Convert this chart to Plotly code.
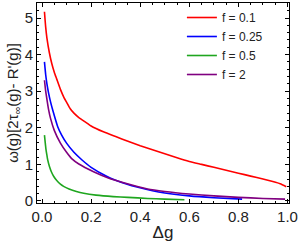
import plotly.graph_objects as go

# Data
red_x = [0.01, 0.015, 0.02, 0.03, 0.04, 0.05, 0.06, 0.075, 0.09, 0.1, 0.115, 0.13, 0.15, 0.183, 0.2,
         0.25, 0.3, 0.35, 0.4, 0.45, 0.5, 0.55, 0.6, 0.65, 0.7, 0.75, 0.8, 0.85, 0.9, 0.94, 0.97, 0.995]
red_y = [5.17, 4.75, 4.45, 4.05, 3.75, 3.52, 3.33, 3.05, 2.82, 2.7, 2.52, 2.4, 2.28, 2.13, 2.05,
         1.89, 1.76, 1.63, 1.51, 1.4, 1.29, 1.18, 1.08, 1.0, 0.92, 0.84, 0.76, 0.68, 0.6, 0.53, 0.47, 0.39]

blue_x = [0.01, 0.015, 0.02, 0.027, 0.035, 0.045, 0.064, 0.08, 0.1, 0.13, 0.163, 0.2, 0.265, 0.3,
          0.35, 0.387, 0.45, 0.5, 0.6, 0.7, 0.815]
blue_y = [3.8, 3.45, 3.2, 2.94, 2.7, 2.45, 2.03, 1.8, 1.58, 1.33, 1.12, 0.92, 0.67, 0.57,
          0.45, 0.38, 0.28, 0.22, 0.14, 0.09, 0.05]

green_x = [0.01, 0.013, 0.016, 0.02, 0.023, 0.03, 0.038, 0.048, 0.06, 0.075, 0.088, 0.11, 0.14,
           0.17, 0.22, 0.29, 0.35, 0.43, 0.5, 0.58]
green_y = [1.8, 1.6, 1.42, 1.25, 1.13, 0.95, 0.8, 0.67, 0.56, 0.46, 0.4, 0.33, 0.26,
           0.21, 0.16, 0.12, 0.1, 0.07, 0.05, 0.035]

purple_x = [0.01, 0.015, 0.02, 0.027, 0.035, 0.05, 0.075, 0.1, 0.122, 0.15, 0.21, 0.27, 0.333,
            0.43, 0.5, 0.6, 0.7, 0.8, 0.9, 0.99]
purple_y = [3.3, 3.0, 2.78, 2.49, 2.25, 1.93, 1.58, 1.33, 1.15, 1.01, 0.8, 0.63, 0.5,
            0.33, 0.26, 0.19, 0.14, 0.1, 0.07, 0.05]

series = [
    ("f = 0.1", red_x, red_y, "#ff0000"),
    ("f = 0.25", blue_x, blue_y, "#0000ff"),
    ("f = 0.5", green_x, green_y, "#1fa61f"),
    ("f = 2", purple_x, purple_y, "#800080"),
]

fig = go.Figure()
for name, xs, ys, col in series:
    fig.add_trace(go.Scatter(x=xs, y=ys, mode="lines", name=name,
                             line=dict(color=col, width=1.6, shape="spline", smoothing=0.5)))

font = "Liberation Sans, Arial, sans-serif"
axis_common = dict(showgrid=False, zeroline=False, showline=True, linecolor="black",
                   linewidth=1, mirror="allticks", ticks="inside", ticklen=4,
                   tickcolor="black", automargin=False,
                   tickfont=dict(family=font, size=15, color="#222"))

fig.update_layout(
    width=300, height=249,
    margin=dict(l=37, r=11, t=3, b=46),
    paper_bgcolor="white", plot_bgcolor="white",
    showlegend=True,
    legend=dict(x=0.575, y=1.0, xanchor="left", yanchor="top",
                bgcolor="rgba(0,0,0,0)", font=dict(family=font, size=12, color="#222"),
                itemwidth=30, tracegroupgap=0),
    xaxis=dict(range=[-0.0204, 1.006], tickvals=[0, 0.2, 0.4, 0.6, 0.8, 1.0],
               ticktext=["0.0", "0.2", "0.4", "0.6", "0.8", "1.0"],
               minor=dict(dtick=0.05, tick0=0, ticks="inside", ticklen=2, tickcolor="black"),
               title=dict(text="Δg", font=dict(family=font, size=17, color="#222"), standoff=2),
               **axis_common),
    yaxis=dict(range=[-0.055, 5.41], tickvals=[0, 1, 2, 3, 4, 5],
               minor=dict(dtick=0.2, tick0=0, ticks="inside", ticklen=2, tickcolor="black"),
               title=dict(text="ω(g)[2τ<sub>∞</sub>(g)- R'(g)]",
                          font=dict(family=font, size=15, color="#222"), standoff=2),
               **axis_common),
)

fig.write_html("out.html", config={"displayModeBar": False},
               post_script="document.body.style.margin='0';")
